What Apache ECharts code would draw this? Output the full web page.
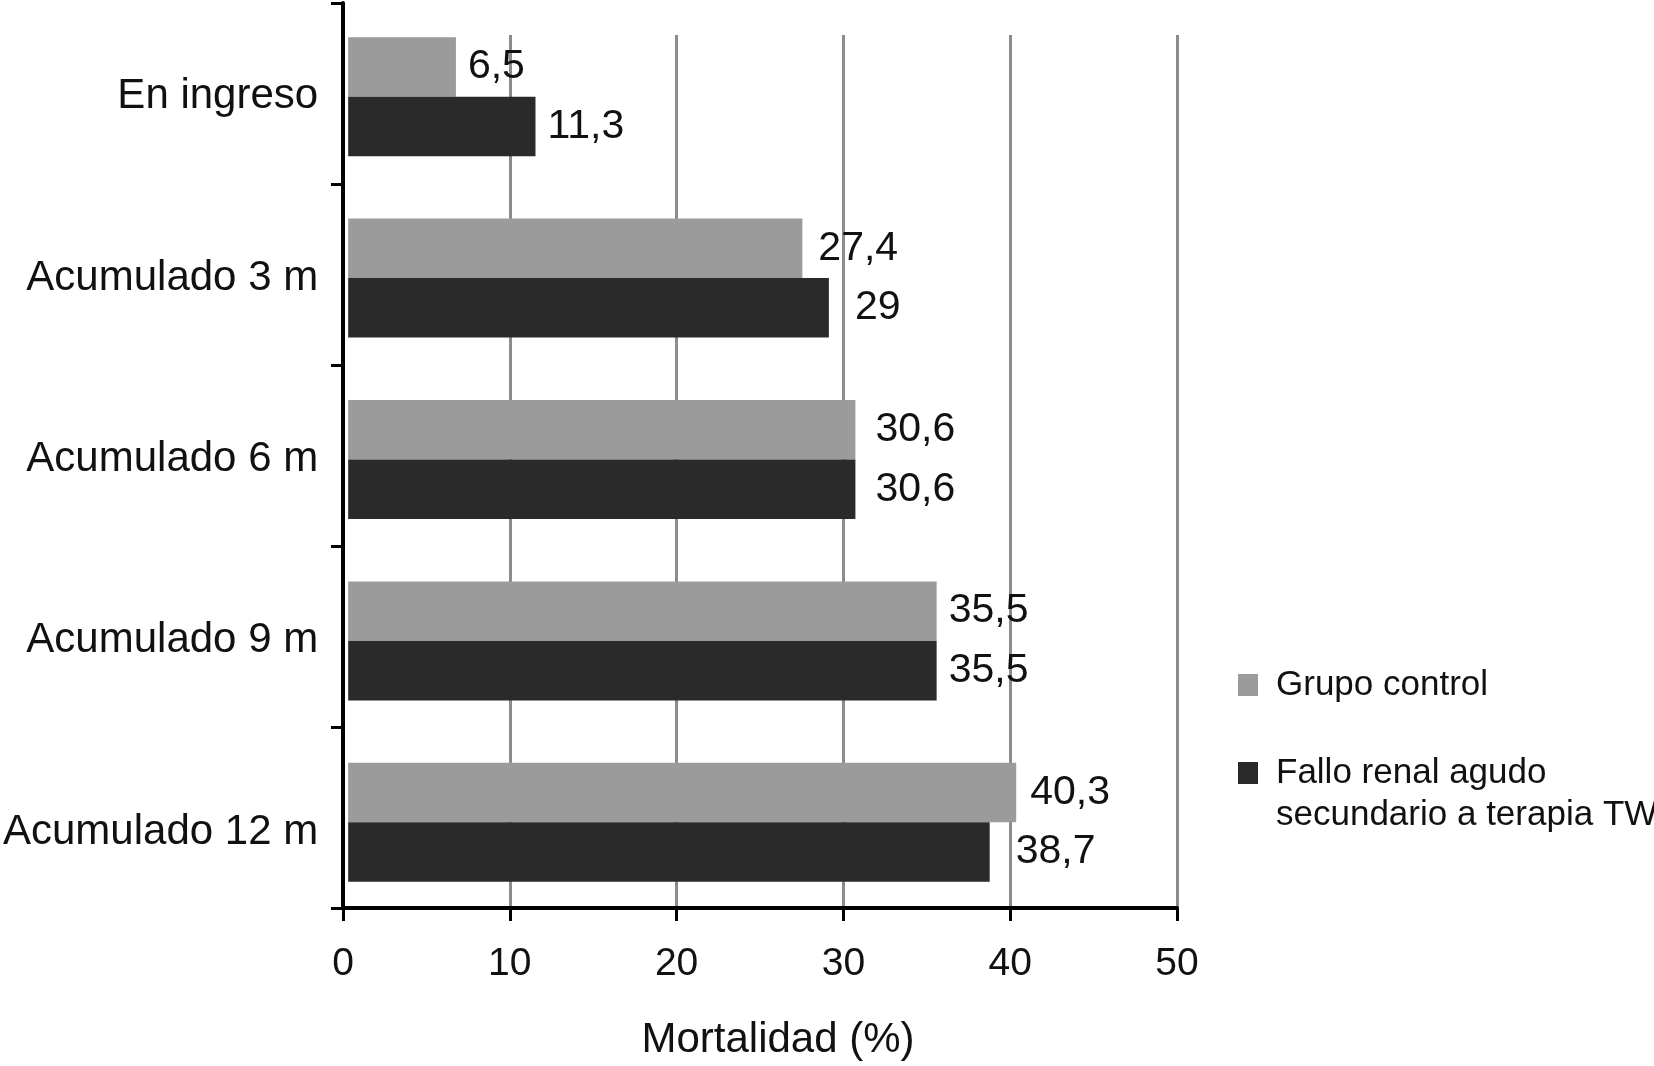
<!DOCTYPE html>
<html>
<head>
<meta charset="utf-8">
<script src="https://cdn.jsdelivr.net/npm/echarts@6/dist/echarts.min.js"></script>
<style>
html,body{margin:0;padding:0;background:#fff;}
#chart{width:1654px;height:1066px;}
</style>
</head>
<body>
<div id="chart"></div>
<script>
const categories = ['En ingreso', 'Acumulado 3 m', 'Acumulado 6 m', 'Acumulado 9 m', 'Acumulado 12 m'];
const seriesNames = ['Grupo control', 'Fallo renal agudo secundario a terapia TW'];
const controlValues = [6.5, 27.4, 30.6, 35.5, 40.3];
const frValues = [11.3, 29, 30.6, 35.5, 38.7];
const xTicks = [0, 10, 20, 30, 40, 50];

// label spacing from bar end (style only)
const controlLabelGap = [12, 16, 20, 12, 14];
const frLabelGap = [12, 26, 20, 12, 26];
// categories whose label sits lower than its bars in the reference (style only)
const loweredCategoryIdx = [4];

const FONT = '"Liberation Sans", Arial, Helvetica, sans-serif';
const fmtNum = v => String(v).replace('.', ',');

const chart = echarts.init(document.getElementById('chart'));
const L = 343, R = 477;

function barData(values, gaps) {
  return values.map((v, i) => ({ value: v, label: { distance: gaps[i] } }));
}

chart.setOption({
  backgroundColor: '#ffffff',
  animation: false,
  grid: [
    { left: L, right: R, top: 3, bottom: 155 },
    { left: L, right: R, top: 35, bottom: 155 },
    { left: L, right: R, top: 6, bottom: 153 }
  ],
  legend: [
    {
      data: [seriesNames[0]],
      orient: 'vertical', left: 1238, top: 664, padding: 0,
      icon: 'rect', itemWidth: 20, itemHeight: 22, selectedMode: false,
      textStyle: { fontFamily: FONT, fontSize: 35, lineHeight: 42, color: '#111', padding: [0, 0, 0, 13] }
    },
    {
      data: [seriesNames[1]],
      orient: 'vertical', left: 1238, top: 708, padding: 0,
      icon: 'rect', itemWidth: 20, itemHeight: 22, selectedMode: false,
      formatter: () => '\nFallo renal agudo\nsecundario a terapia TW',
      textStyle: { fontFamily: FONT, fontSize: 35, lineHeight: 42, color: '#111', padding: [4, 0, 0, 13] }
    }
  ],
  xAxis: [
    {
      type: 'value', gridIndex: 0, min: xTicks[0], max: xTicks[xTicks.length - 1], interval: 10, z: 5,
      name: 'Mortalidad (%)', nameLocation: 'middle', nameGap: 111,
      nameTextStyle: { fontFamily: FONT, fontSize: 42, color: '#111', padding: [0, 0, 0, 36] },
      axisLine: { show: true, lineStyle: { color: '#000', width: 4 } },
      axisTick: { show: true, length: 13, lineStyle: { color: '#000', width: 3 } },
      axisLabel: { fontFamily: FONT, fontSize: 39, color: '#111', margin: 37 },
      splitLine: { show: false }
    },
    {
      type: 'value', gridIndex: 1, min: xTicks[0], max: xTicks[xTicks.length - 1], interval: 10, z: 0,
      axisLine: { show: false }, axisTick: { show: false }, axisLabel: { show: false },
      splitLine: { show: true, lineStyle: { color: '#8c8c8c', width: 3 } }
    },
    {
      type: 'value', gridIndex: 2, min: xTicks[0], max: xTicks[xTicks.length - 1], interval: 10, show: false
    }
  ],
  yAxis: [
    {
      type: 'category', gridIndex: 0, data: categories, inverse: true, z: 5,
      axisLine: { show: true, lineStyle: { color: '#000', width: 4 } },
      axisTick: { show: true, length: 12, lineStyle: { color: '#000', width: 3 } },
      axisLabel: { show: false },
      splitLine: { show: false }
    },
    { type: 'value', gridIndex: 1, show: false, min: 0, max: 1 },
    {
      type: 'category', gridIndex: 2, data: categories, inverse: true,
      axisLine: { show: false }, axisTick: { show: false },
      axisLabel: {
        fontFamily: FONT, fontSize: 42, color: '#111', margin: 30,
        formatter: (v, i) => loweredCategoryIdx.includes(i) ? '{low|' + v + '}' : v,
        rich: { low: { fontFamily: FONT, fontSize: 42, color: '#111', lineHeight: 42, padding: [20, 0, 0, 0] } }
      },
      splitLine: { show: false }
    }
  ],
  series: [
    {
      name: seriesNames[0], type: 'bar', xAxisIndex: 2, yAxisIndex: 2, data: barData(controlValues, controlLabelGap),
      barWidth: 59.5, barGap: '0%', z: 3,
      itemStyle: { color: '#9b9b9b' },
      label: { show: true, position: 'right', formatter: p => fmtNum(p.value),
        fontFamily: FONT, fontSize: 41, color: '#111' }
    },
    {
      name: seriesNames[1], type: 'bar', xAxisIndex: 2, yAxisIndex: 2, data: barData(frValues, frLabelGap),
      barWidth: 59.5, barGap: '0%', z: 3,
      itemStyle: { color: '#2a2a2a' },
      label: { show: true, position: 'right', formatter: p => fmtNum(p.value),
        fontFamily: FONT, fontSize: 41, color: '#111' }
    }
  ]
});
</script>
</body>
</html>
